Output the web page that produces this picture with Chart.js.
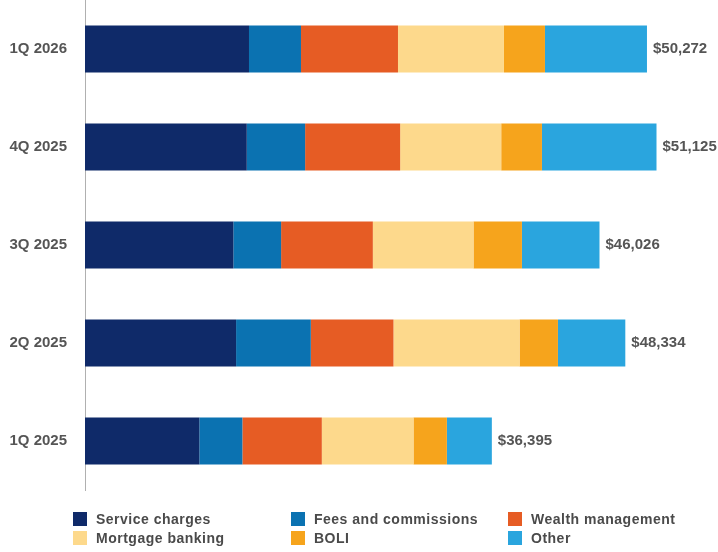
<!DOCTYPE html>
<html>
<head>
<meta charset="utf-8">
<script src="https://cdn.jsdelivr.net/npm/chart.js@4"></script>
<style>
  html, body { margin: 0; padding: 0; background: #fff; }
  #wrap { position: relative; width: 718px; height: 552px; }
  #legend { position: absolute; left: 0; top: 512px; width: 718px; height: 40px;
            font-family: "Liberation Sans", Arial, sans-serif; font-size: 14px; font-weight: bold;
            letter-spacing: 0.5px; color: #4a4a4a; }
  .item { position: absolute; height: 15px; line-height: 15px; white-space: nowrap; }
  .box { display: inline-block; width: 14px; height: 14px; vertical-align: top; margin-right: 9px; }
</style>
</head>
<body>
<div id="wrap">
  <canvas id="chart" width="718" height="552"></canvas>
  <div id="legend"></div>
</div>
<script>
// Quarters, top to bottom
const quarters = ['1Q 2026', '4Q 2025', '3Q 2025', '2Q 2025', '1Q 2025'];

// Noninterest income components ($ thousands)
const serviceCharges = [14670, 14472, 13273, 13515, 10230];
const feesCommissions = [4651, 5218, 4269, 6686, 3849];
const wealthMgmt = [8677, 8503, 8207, 7393, 7106];
const mortgageBanking = [9482, 9040, 9004, 11277, 8198];
const boli = [3667, 3643, 4332, 3437, 2989];
const other = [9125, 10249, 6941, 6026, 4023];

// Total labels shown at bar ends
const totals = ['$50,272', '$51,125', '$46,026', '$48,334', '$36,395'];

const seriesNames = ['Service charges', 'Fees and commissions', 'Wealth management', 'Mortgage banking', 'BOLI', 'Other'];
const seriesData = [serviceCharges, feesCommissions, wealthMgmt, mortgageBanking, boli, other];
const seriesColors = ['#0f2a69', '#0b72b1', '#e65c24', '#fdd98c', '#f6a41c', '#2aa5de'];

// Draw totals at the end of each stacked bar
const totalLabels = {
    id: 'totalLabels',
    afterDatasetsDraw(chart) {
        const ctx = chart.ctx;
        const last = chart.getDatasetMeta(chart.data.datasets.length - 1);
        ctx.save();
        ctx.font = 'bold 15px "Liberation Sans", Arial, sans-serif';
        ctx.fillStyle = '#555';
        ctx.textBaseline = 'middle';
        ctx.textAlign = 'left';
        last.data.forEach((bar, i) => {
            ctx.fillText(totals[i], bar.x + 6, bar.y);
        });
        ctx.restore();
    }
};

const chart = new Chart(document.getElementById('chart').getContext('2d'), {
    type: 'bar',
    data: {
        labels: quarters,
        datasets: seriesNames.map((name, i) => ({
            label: name,
            data: seriesData[i],
            backgroundColor: seriesColors[i],
            borderWidth: 0,
            barPercentage: 0.48,
            categoryPercentage: 1
        }))
    },
    options: {
        indexAxis: 'y',
        responsive: false,
        animation: false,
        layout: { padding: { top: 0, right: 7, bottom: 62, left: 0 } },
        plugins: {
            legend: { display: false },
            tooltip: { enabled: false }
        },
        scales: {
            x: {
                stacked: true,
                display: false,
                min: 0,
                max: 56000
            },
            y: {
                stacked: true,
                grid: { display: false, drawTicks: false },
                border: { display: true, color: '#b0b0b0', width: 1 },
                ticks: {
                    padding: 18,
                    color: '#555',
                    font: { family: '"Liberation Sans", Arial, sans-serif', size: 15, weight: 'bold' }
                },
                afterFit(scale) {
                    scale.width = 85;
                    // tick padding also gets added above/below the axis, drop it
                    scale.paddingTop = 0;
                    scale.paddingBottom = 0;
                }
            }
        }
    },
    plugins: [totalLabels]
});

// HTML legend, three columns by two rows
const legendCols = [73, 291, 508];
const legendRows = [0, 19];
const legendEl = document.getElementById('legend');
seriesNames.forEach((name, k) => {
    const item = document.createElement('div');
    item.className = 'item';
    item.style.left = legendCols[k % 3] + 'px';
    item.style.top = legendRows[Math.floor(k / 3)] + 'px';
    item.innerHTML = '<span class="box" style="background:' + seriesColors[k] + '"></span>' + name;
    legendEl.appendChild(item);
});
</script>
</body>
</html>
